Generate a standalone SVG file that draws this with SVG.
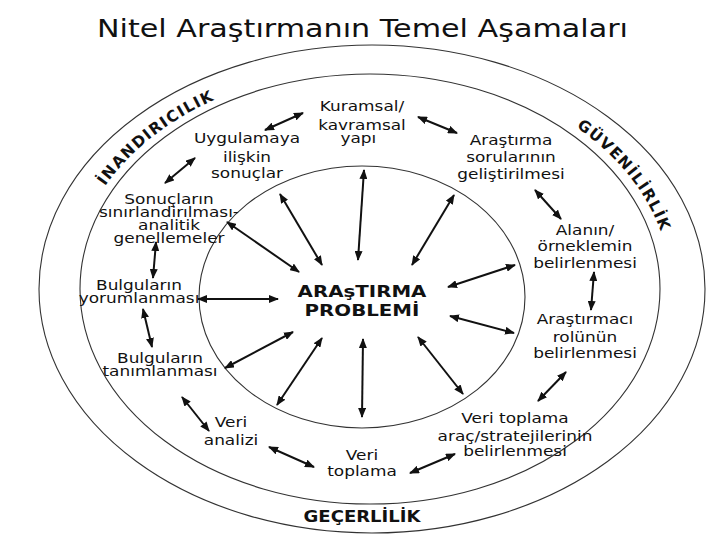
<svg xmlns="http://www.w3.org/2000/svg" width="720" height="540" viewBox="0 0 720 540">
<style>
.ring{fill:none;stroke:#333;stroke-width:1.1}
.t{font-family:"DejaVu Sans",Verdana,sans-serif;font-size:14px;fill:#111;text-anchor:middle}
.c{font-family:"DejaVu Sans",Verdana,sans-serif;font-size:16.5px;font-weight:bold;fill:#111;text-anchor:middle}
.lab{font-family:"DejaVu Sans",Verdana,sans-serif;font-size:15.5px;font-weight:bold;fill:#111;letter-spacing:1.3px}
.title{font-family:"DejaVu Sans",Verdana,sans-serif;font-size:25px;fill:#111}
.a{stroke:#111;stroke-width:2;fill:none;marker-start:url(#ah);marker-end:url(#ah)}
</style>
<defs>
<marker id="ah" viewBox="0 0 10 8" refX="9" refY="4" markerWidth="5" markerHeight="4" orient="auto-start-reverse" markerUnits="strokeWidth">
<path d="M0,0 L10,4 L0,8 z" fill="#111"/>
</marker>
<path id="arcTop" d="M 71,289 A 300 222 0 0 1 671,289"/>
</defs>
<rect width="720" height="540" fill="#fff"/>
<text class="title" x="97" y="37" textLength="531" lengthAdjust="spacingAndGlyphs">Nitel Araştırmanın Temel Aşamaları</text>

<g id="rings">
<ellipse class="ring" cx="372" cy="289" rx="333" ry="244"/>
<ellipse class="ring" cx="370" cy="289" rx="290" ry="215"/>
<ellipse class="ring" cx="362" cy="297" rx="163" ry="131"/>
</g>

<g id="labels">
<text class="lab"><textPath href="#arcTop" startOffset="110">İNANDIRICILIK</textPath></text>
<text class="lab"><textPath href="#arcTop" startOffset="629">GÜVENİLİRLİK</textPath></text>
<text class="lab" x="362" y="522" text-anchor="middle" textLength="117" lengthAdjust="spacingAndGlyphs" style="letter-spacing:0;font-size:15px">GEÇERLİLİK</text>
</g>

<g id="center" transform="translate(362 0) scale(1.2 1)">
<text class="c" x="0" y="297">ARAşTIRMA</text>
<text class="c" x="0" y="316">PROBLEMİ</text>
</g>

<g id="kuramsal" transform="translate(362 0) scale(1.21 1)">
<text class="t" x="0" y="111">Kuramsal/</text>
<text class="t" x="0" y="130">kavramsal</text>
<text class="t" x="-3" y="143">yapı</text>
</g>
<g id="arastirma-sorulari" transform="translate(511 0) scale(1.21 1)">
<text class="t" x="0" y="145">Araştırma</text>
<text class="t" x="0" y="162">sorularının</text>
<text class="t" x="0" y="179">geliştirilmesi</text>
</g>
<g id="alanin" transform="translate(585 0) scale(1.21 1)">
<text class="t" x="0" y="235">Alanın/</text>
<text class="t" x="0" y="251">örneklemin</text>
<text class="t" x="0" y="268">belirlenmesi</text>
</g>
<g id="arastirmaci" transform="translate(585 0) scale(1.21 1)">
<text class="t" x="0" y="324">Araştırmacı</text>
<text class="t" x="0" y="342">rolünün</text>
<text class="t" x="0" y="358">belirlenmesi</text>
</g>
<g id="veri-toplama-arac" transform="translate(515 0) scale(1.21 1)">
<text class="t" x="0" y="423">Veri toplama</text>
<text class="t" x="0" y="441">araç/stratejilerinin</text>
<text class="t" x="0" y="456">belirlenmesi</text>
</g>
<g id="veri-toplama" transform="translate(362 0) scale(1.21 1)">
<text class="t" x="0" y="460">Veri</text>
<text class="t" x="0" y="476">toplama</text>
</g>
<g id="veri-analizi" transform="translate(231 0) scale(1.21 1)">
<text class="t" x="0" y="427">Veri</text>
<text class="t" x="0" y="445">analizi</text>
</g>
<g id="bulgularin-tanimlanmasi" transform="translate(160 0) scale(1.21 1)">
<text class="t" x="0" y="363">Bulguların</text>
<text class="t" x="0" y="376">tanımlanması</text>
</g>
<g id="bulgularin-yorumlanmasi" transform="translate(139 0) scale(1.21 1)">
<text class="t" x="0" y="290">Bulguların</text>
<text class="t" x="0" y="303">yorumlanması</text>
</g>
<g id="sonuclarin" transform="translate(169 0) scale(1.21 1)">
<text class="t" x="0" y="204">Sonuçların</text>
<text class="t" x="0" y="217">sınırlandirılması-</text>
<text class="t" x="0" y="230">analitik</text>
<text class="t" x="0" y="243">genellemeler</text>
</g>
<g id="uygulamaya" transform="translate(247 0) scale(1.21 1)">
<text class="t" x="0" y="143">Uygulamaya</text>
<text class="t" x="0" y="162">ilişkin</text>
<text class="t" x="0" y="178">sonuçlar</text>
</g>

<g id="connectors">
<line class="a" x1="265" y1="130" x2="303" y2="113"/>
<line class="a" x1="418" y1="117" x2="457" y2="133"/>
<line class="a" x1="535" y1="190" x2="561" y2="219"/>
<line class="a" x1="594" y1="272" x2="591" y2="310"/>
<line class="a" x1="566" y1="372" x2="538" y2="401"/>
<line class="a" x1="455" y1="454" x2="410" y2="473"/>
<line class="a" x1="269" y1="447" x2="314" y2="467"/>
<line class="a" x1="182" y1="397" x2="209" y2="431"/>
<line class="a" x1="143" y1="309" x2="152" y2="347"/>
<line class="a" x1="156" y1="242" x2="153" y2="278"/>
<line class="a" x1="165" y1="183" x2="195" y2="158"/>

<line class="a" x1="280" y1="194" x2="322" y2="265"/>
<line class="a" x1="227" y1="222" x2="299" y2="272"/>
<line class="a" x1="198" y1="299" x2="278" y2="299"/>
<line class="a" x1="293" y1="332" x2="225" y2="368"/>
<line class="a" x1="322" y1="338" x2="277" y2="405"/>
<line class="a" x1="363" y1="339" x2="362" y2="417"/>
<line class="a" x1="418" y1="337" x2="463" y2="394"/>
<line class="a" x1="450" y1="316" x2="514" y2="333"/>
<line class="a" x1="515" y1="265" x2="448" y2="287"/>
<line class="a" x1="454" y1="195" x2="412" y2="265"/>
<line class="a" x1="364" y1="170" x2="358" y2="260"/>
</g>
</svg>
